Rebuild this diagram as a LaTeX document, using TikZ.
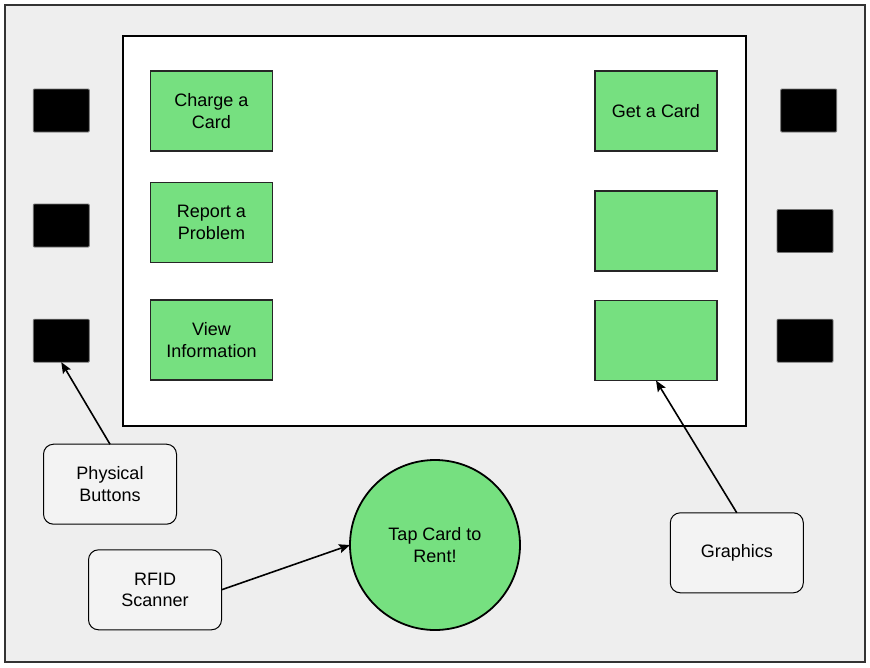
\documentclass[tikz,border=0pt]{standalone}
\usepackage{fontspec}
\setmainfont{Liberation Sans}
\usetikzlibrary{arrows.meta}
\definecolor{framegray}{RGB}{238,238,238}
\definecolor{callgray}{RGB}{243,243,243}
\definecolor{btngreen}{RGB}{118,224,128}
\definecolor{edgegray}{RGB}{51,51,51}
\tikzset{
  base/.style={inner sep=0pt, outer sep=0pt, align=center, font=\fontsize{18}{21.5}\selectfont},
  greenbox/.style={base, draw=black!85, line width=1.8pt, fill=btngreen, minimum width=122pt, minimum height=80pt},
  hwbtn/.style={base, draw=black!55, line width=0.8pt, fill=black, rounded corners=1pt, minimum width=56pt, minimum height=43pt},
  callout/.style={base, draw=black, line width=1pt, fill=callgray, rounded corners=10pt, minimum width=133pt, minimum height=80pt},
  pointer/.style={line width=1.6pt, -{Stealth[length=11pt,width=9pt,inset=2pt]}}
}
\begin{document}
\begin{tikzpicture}[x=1pt,y=-1pt]
\useasboundingbox (0,0) rectangle (870,667);
% outer housing
\draw[draw=edgegray, line width=2pt, fill=framegray] (5,4.5) rectangle (865,661.5);
% screen
\draw[draw=black, line width=2pt, fill=white] (123,35.5) rectangle (746,425.5);
% left green buttons
\node[greenbox] (charge) at (211.5,111) {Charge a\\Card};
\node[greenbox] (report) at (211.5,222.5) {Report a\\Problem};
\node[greenbox] (view) at (211.5,340) {View\\Information};
% right green buttons
\node[greenbox] (getcard) at (656,111) {Get a Card};
\node[greenbox] (rb2) at (656,231) {};
\node[greenbox] (rb3) at (656,340.5) {};
% physical buttons
\node[hwbtn] (lb1) at (61.3,110.5) {};
\node[hwbtn] (lb2) at (61.3,225.5) {};
\node[hwbtn] (lb3) at (61.3,340.7) {};
\node[hwbtn] (rbb1) at (808.7,110.5) {};
\node[hwbtn] (rbb2) at (805,231) {};
\node[hwbtn] (rbb3) at (805,340.7) {};
% RFID circle
\node[base, circle, draw=black, line width=1.8pt, fill=btngreen, minimum size=170pt] (tap) at (435,545) {Tap Card to\\Rent!};
% callouts
\node[callout] (phys) at (110,484.2) {Physical\\Buttons};
\node[callout] (rfid) at (155,589.8) {RFID\\Scanner};
\node[callout] (gfx) at (736.8,552.8) {Graphics};
% pointers
\draw[pointer] (phys.north) -- (lb3.south);
\draw[pointer] (rfid.east) -- (tap.west);
\draw[pointer] (gfx.north) -- (rb3.south);
\end{tikzpicture}
\end{document}
